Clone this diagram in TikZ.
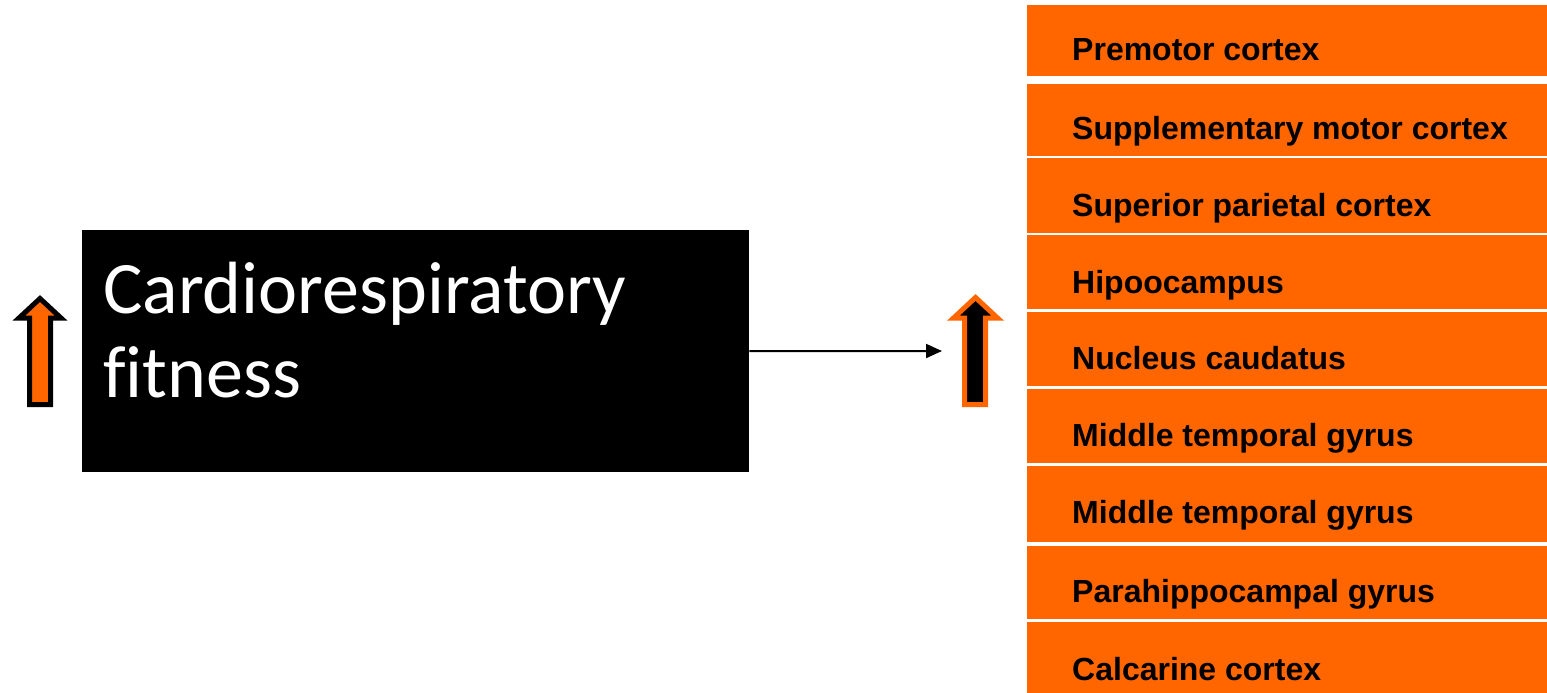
\documentclass[tikz,border=0pt]{standalone}
\usepackage{fontspec}
\setmainfont{Liberation Sans}
\newfontfamily\calib[Ligatures=CommonOff]{Carlito}
\usetikzlibrary{arrows.meta}
\definecolor{orng}{RGB}{255,102,0}
\begin{document}
\begin{tikzpicture}[x=1pt,y=-1pt,
  region/.style={fill=orng, draw=none, anchor=north west, minimum width=520, inner sep=0},
  lbl/.style={anchor=base west, font=\bfseries\fontsize{32}{38}\selectfont, inner sep=0},
  bigtxt/.style={anchor=base west, text=white, font=\calib\fontsize{74}{88}\selectfont, inner sep=0},
  blockarrow/.style={line width=5, line join=miter}]
\useasboundingbox (0,0) rectangle (1547,693);

% orange regions
\node[region, minimum height=71] (r1) at (1027,5) {};
\node[region, minimum height=72] (r2) at (1027,84) {};
\node[region, minimum height=75] (r3) at (1027,158) {};
\node[region, minimum height=74] (r4) at (1027,235) {};
\node[region, minimum height=74] (r5) at (1027,312) {};
\node[region, minimum height=74] (r6) at (1027,389) {};
\node[region, minimum height=76] (r7) at (1027,466) {};
\node[region, minimum height=73] (r8) at (1027,546) {};
\node[region, minimum height=71] (r9) at (1027,622) {};

\node[lbl] (l1) at (1072,61) {Premotor cortex};
\node[lbl] (l2) at (1072,139) {Supplementary motor cortex};
\node[lbl] (l3) at (1072,216) {Superior parietal cortex};
\node[lbl] (l4) at (1072,293) {Hipoocampus};
\node[lbl] (l5) at (1072,369) {Nucleus caudatus};
\node[lbl] (l6) at (1072,446) {Middle temporal gyrus};
\node[lbl] (l7) at (1072,523) {Middle temporal gyrus};
\node[lbl] (l8) at (1072,602) {Parahippocampal gyrus};
\node[lbl] (l9) at (1072,680) {Calcarine cortex};

% black box
\node[fill=black, anchor=north west, minimum width=667, minimum height=242, inner sep=0] (fit) at (82,230) {};
\node[bigtxt] (t1) at (103,313) {Cardiorespiratory};
\node[bigtxt] (t2) at (103,397) {fitness};

% connector
\coordinate (tgt) at (942,351);
\draw[line width=2, -{Triangle[length=16,width=14]}] (fit.east) -- (tgt);

% left block arrow
\draw[blockarrow, fill=orng, draw=black]
  (40,298.5) -- (61,318) -- (50.5,318) -- (50.5,404.5) -- (29.5,404.5) -- (29.5,318) -- (19,318) -- cycle;

% middle block arrow
\draw[blockarrow, fill=black, draw=orng]
  (975.5,297.5) -- (997.5,318) -- (985.5,318) -- (985.5,404.5) -- (964.5,404.5) -- (964.5,318) -- (953.5,318) -- cycle;
\end{tikzpicture}
\end{document}
